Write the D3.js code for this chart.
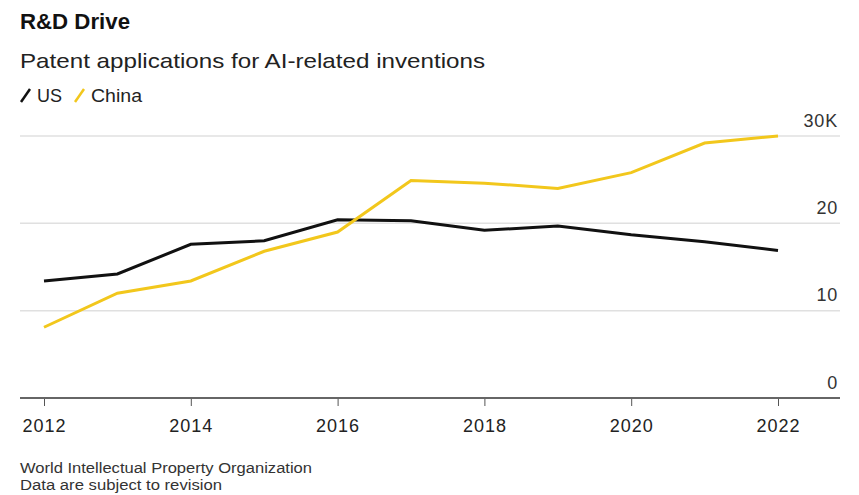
<!DOCTYPE html>
<meta charset="utf-8">
<script src="https://d3js.org/d3.v7.min.js"></script>
<style>
  body { margin: 0; background: #fff; }
  text { font-family: "Liberation Sans", Arial, sans-serif; }
</style>
<div id="chart"></div>
<script>

// data, thousands of applications
var years = [2012, 2013, 2014, 2015, 2016, 2017, 2018, 2019, 2020, 2021, 2022];
var usValues = [13.4, 14.2, 17.6, 18.0, 20.4, 20.3, 19.2, 19.7, 18.7, 17.9, 16.9];
var chinaValues = [8.1, 12.0, 13.4, 16.8, 19.0, 24.9, 24.6, 24.0, 25.8, 29.2, 30.0];
var yTicks = [0, 10, 20, 30];
var xTicks = [2012, 2014, 2016, 2018, 2020, 2022];

var width = 859, height = 495;

var svg = d3.select("#chart").append("svg")
  .attr("width", width)
  .attr("height", height);

var x = d3.scaleLinear().domain([2012, 2022]).range([44, 778]);
var y = d3.scaleLinear().domain([0, 30]).range([398, 136]);

// titles
svg.append("text").attr("x", 20).attr("y", 29)
  .attr("textLength", 110).attr("lengthAdjust", "spacingAndGlyphs")
  .style("font-size", "22px").style("font-weight", "bold").style("fill", "#111")
  .text("R&D Drive");
svg.append("text").attr("x", 20).attr("y", 68)
  .attr("textLength", 465).attr("lengthAdjust", "spacingAndGlyphs")
  .style("font-size", "21px").style("fill", "#222")
  .text("Patent applications for AI-related inventions");

// legend
var legend = [{name: "US", color: "#111", w: 25}, {name: "China", color: "#f2c71c", w: 51}];
var lx = 20;
legend.forEach(function(d) {
  svg.append("line")
    .attr("x1", lx + 1).attr("y1", 102).attr("x2", lx + 10).attr("y2", 89)
    .style("stroke", d.color).style("stroke-width", 2.5);
  svg.append("text").attr("x", lx + 17).attr("y", 102)
    .attr("textLength", d.w).attr("lengthAdjust", "spacingAndGlyphs")
    .style("font-size", "17.5px").style("fill", "#222")
    .text(d.name);
  lx += 17 + d.w + 12;
});

// gridlines
svg.selectAll(".grid")
  .data(yTicks.filter(function(d) { return d > 0; }))
  .enter().append("line")
    .attr("x1", 20).attr("x2", 840)
    .attr("y1", function(d) { return y(d); })
    .attr("y2", function(d) { return y(d); })
    .style("stroke", "#e0e0e0").style("stroke-width", 1.5);

// y labels on right, above lines
svg.selectAll(".ylab")
  .data(yTicks)
  .enter().append("text")
    .attr("x", 838)
    .attr("y", function(d) { return y(d) - 9.5; })
    .attr("text-anchor", "end")
    .style("font-size", "18px").style("letter-spacing", "0.8px").style("fill", "#333")
    .text(function(d) { return d === 30 ? "30K" : d; });

// x axis
var xAxis = svg.append("g")
  .attr("transform", "translate(0,398)")
  .call(d3.axisBottom(x).tickValues(xTicks).tickFormat(d3.format("d")).tickSize(8).tickPadding(13));
xAxis.select(".domain").remove();
xAxis.selectAll(".tick line").style("stroke", "#555");
xAxis.selectAll(".tick text").style("font-size", "18px").style("fill", "#222")
  .style("letter-spacing", "1px")
  .style("font-family", "'Liberation Sans', Arial, sans-serif");
svg.append("line").attr("x1", 20).attr("x2", 840).attr("y1", 398).attr("y2", 398)
  .style("stroke", "#666").style("stroke-width", 2);

// lines
var line = d3.line()
  .x(function(d, i) { return x(years[i]); })
  .y(function(d) { return y(d); });

svg.append("path").datum(usValues)
  .attr("d", line)
  .style("fill", "none").style("stroke", "#111").style("stroke-width", 3);
svg.append("path").datum(chinaValues)
  .attr("d", line)
  .style("fill", "none").style("stroke", "#f2c71c").style("stroke-width", 3);

// footer
svg.append("text").attr("x", 20).attr("y", 473)
  .attr("textLength", 292).attr("lengthAdjust", "spacingAndGlyphs")
  .style("font-size", "14px").style("fill", "#333")
  .text("World Intellectual Property Organization");
svg.append("text").attr("x", 20).attr("y", 490)
  .attr("textLength", 202).attr("lengthAdjust", "spacingAndGlyphs")
  .style("font-size", "14px").style("fill", "#333")
  .text("Data are subject to revision");

</script>
